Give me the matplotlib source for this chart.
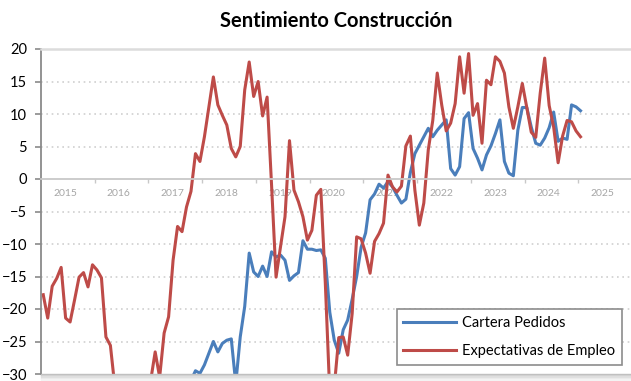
import numpy as np
import matplotlib.pyplot as plt
from matplotlib.patches import Rectangle

plt.rcParams['font.family'] = ['Lato', 'DejaVu Sans']

# Serie mensual desde enero 2015 (NaN = sin dato / fuera de escala)
nan = np.nan
expectativas_empleo = [
    -17.8, -21.4, -16.5, -15.3, -13.6, -21.4, -22.0, -18.6, -15.1, -14.4, -16.6, -13.2,   # 2015
    -14.0, -15.2, -24.3, -25.6, -32.0, nan, nan, nan, nan, nan, nan, nan,                 # 2016
    -31.0, -26.6, -30.5, -23.7, -21.2, -12.5, -7.3, -8.1, -4.3, -1.9, 3.9, 2.7,             # 2017
    6.5, 11.1, 15.7, 11.4, 9.8, 8.3, 4.7, 3.4, 5.0, 13.7, 18.0, 12.7,                       # 2018
    15.0, 9.7, 12.6, -1.0, -15.1, -10.4, -5.8, 5.9, -1.7, -3.5, -5.8, -9.4,                 # 2019
    -7.9, -2.5, -1.6, -16.0, -33.0, -32.0, -24.4, -24.3, -27.1, -20.7, -8.9, -9.2,          # 2020
    -11.4, -14.5, -9.6, -8.4, -6.8, 0.6, -1.2, -2.0, -1.1, 5.1, 6.6, -1.7,                  # 2021
    -7.1, -3.7, 4.5, 9.0, 16.3, 11.4, 7.4, 8.6, 11.6, 18.8, 13.2, 19.3,                     # 2022
    9.8, 11.6, 5.5, 15.2, 14.5, 18.8, 18.1, 16.3, 11.1, 7.8, 11.1, 14.7,                    # 2023
    11.0, 7.2, 6.4, 13.2, 18.6, 11.3, 8.0, 2.5, 6.6, 9.0, 8.8, 7.4,                         # 2024
    6.5,                                                                                    # 2025
]
cartera_pedidos = [nan] * 33 + [
    -31.0, -29.5, -29.9,                                                                    # 2017
    -28.6, -26.8, -25.0, -26.6, -25.3, -24.8, -24.6, -31.5, -24.3, -19.6, -11.4, -14.3,     # 2018
    -15.0, -13.4, -15.0, -11.2, -12.0, -11.7, -12.5, -15.6, -14.9, -14.4, -9.5, -10.8,      # 2019
    -10.8, -11.0, -10.9, -12.2, -20.5, -24.8, -26.8, -23.2, -21.7, -18.5, -15.0, -10.5,     # 2020
    -8.3, -3.2, -2.3, -0.8, -1.4, -0.4, -1.2, -2.5, -3.7, -3.1, 1.0, 3.9,                   # 2021
    5.2, 6.5, 7.8, 6.5, 7.5, 8.3, 9.1, 1.6, 0.6, 1.9, 9.3, 10.2,                            # 2022
    4.7, 3.2, 1.4, 3.7, 5.1, 7.0, 9.1, 2.7, 0.9, 0.5, 7.5, 11.0,                            # 2023
    11.0, 8.0, 5.5, 5.2, 6.3, 7.9, 10.3, 5.8, 6.3, 6.1, 11.4, 11.1,                         # 2024
    10.5,                                                                                   # 2025
]
anios = list(range(2015, 2026))

# fecha en años decimales, punto a mitad de mes
x = 2015 + (np.arange(len(expectativas_empleo)) + 0.5) / 12

fig = plt.figure(figsize=(6.31, 3.81), dpi=100)
ax = fig.add_axes([41 / 631, 7 / 381, 591 / 631, 325 / 381])

ax.plot(x, cartera_pedidos, color='#4a7ebb', lw=2.2, label='Cartera Pedidos')
ax.plot(x, expectativas_empleo, color='#be4b48', lw=2.2, label='Expectativas de Empleo')

ax.set_xlim(2015, 2026)
ax.set_ylim(-30, 20)

# rejilla punteada
ax.set_yticks(range(-30, 25, 5))
for v in range(-25, 20, 5):
    if v != 0:
        ax.axhline(v, color='#d0d0d0', lw=1.2, ls=(0, (1, 2.2)), zorder=0)

# eje x en el cero, etiquetas de año entre marcas
ax.spines['bottom'].set_position(('data', 0))
ax.spines['bottom'].set_color('#c8c8c8')
ax.spines['bottom'].set_linewidth(1.3)
ax.spines['top'].set_color('#dcdcdc')
ax.spines['top'].set_linewidth(1.8)
ax.spines['right'].set_visible(False)
ax.spines['left'].set_color('#8a8a8a')
ax.spines['left'].set_linewidth(1.3)

ax.set_xticks(anios[1:])
ax.set_xticklabels([])
ax.tick_params(axis='x', which='major', length=3, width=1, color='#c8c8c8', direction='out')
ax.set_xticks([a + 0.45 for a in anios], minor=True)
ax.set_xticklabels([str(a) for a in anios], minor=True)
ax.tick_params(axis='x', which='minor', length=0, pad=7, labelsize=7.5, labelcolor='#a6a6a6')

ax.tick_params(axis='y', length=4, width=1.2, color='#8a8a8a', pad=6, labelsize=10.5)

ax.set_title('Sentimiento Construcción', fontsize=14.5, fontweight='bold', pad=16)

leg = ax.legend(loc='lower right', bbox_to_anchor=(0.983, 0.028), borderaxespad=0,
                fontsize=10.5, handlelength=3.6, labelspacing=1.0, borderpad=0.45,
                handletextpad=0.45, fancybox=False, framealpha=1)
leg.get_frame().set_edgecolor('#8c8c8c')
leg.get_frame().set_linewidth(1.2)

# sombra bajo el área de trazado
for i, c in enumerate(['#bdbdbd', '#cfcfcf', '#dedede', '#eaeaea', '#f3f3f3']):
    fig.patches.append(Rectangle((41 / 631, (6 - i * 1.3) / 381), 591 / 631, 1.4 / 381,
                                 transform=fig.transFigure, color=c, zorder=0))

fig.savefig('out.png', dpi=100)
